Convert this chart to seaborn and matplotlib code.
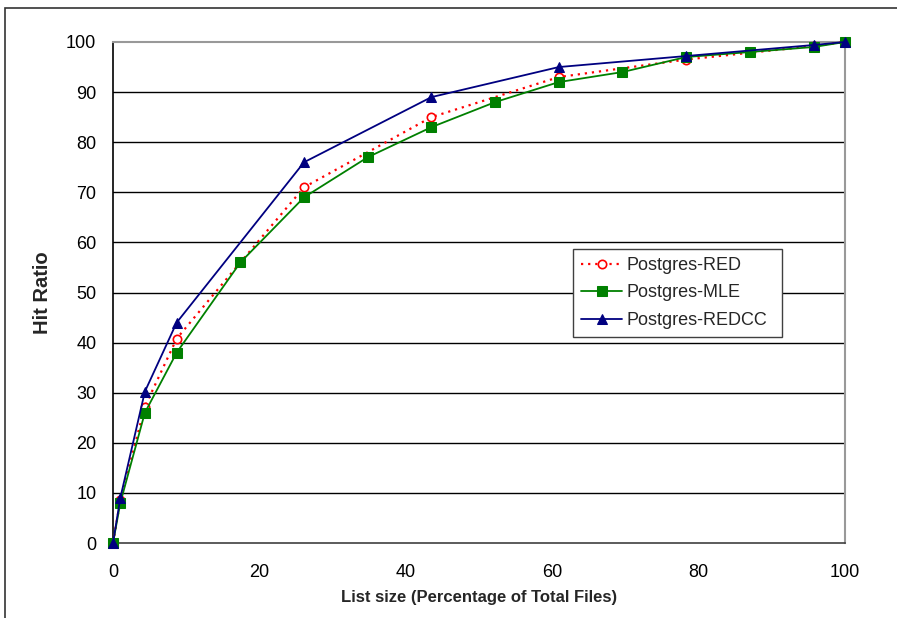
import matplotlib
matplotlib.use('Agg')
import matplotlib.pyplot as plt
import seaborn as sns
import pandas as pd
from matplotlib.patches import Rectangle

sns.set_style('white')
plt.rcParams['font.family'] = ['Liberation Sans', 'DejaVu Sans']

# ---- data ----
x_mle = [0, 1, 4.35, 8.7, 17.4, 26.1, 34.8, 43.5, 52.2, 60.9, 69.6, 78.3, 87.0, 95.7, 100]
y_mle = [0, 8, 26, 38, 56, 69, 77, 83, 88, 92, 94, 97, 98, 99, 100]
x_red = [0, 1, 4.35, 8.7, 17.4, 26.1, 43.5, 60.9, 78.3, 95.7, 100]
y_red = [0, 8.5, 27.2, 40.8, 56, 71, 85, 93, 96.5, 99.2, 100]
x_redcc = [0, 1, 4.35, 8.7, 26.1, 43.5, 60.9, 78.3, 95.7, 100]
y_redcc = [0, 9, 30.2, 44, 76, 89, 95, 97.2, 99.4, 100]
labels = ['Postgres-RED', 'Postgres-MLE', 'Postgres-REDCC']
x_ticks = [0, 20, 40, 60, 80, 100]
y_ticks = [0, 10, 20, 30, 40, 50, 60, 70, 80, 90, 100]
x_label = 'List size (Percentage of Total Files)'
y_label = 'Hit Ratio'

W, H = 897, 618
fig = plt.figure(figsize=(W / 100, H / 100), dpi=100)
ax = fig.add_axes([113 / W, 1 - 543 / H, 732 / W, 501 / H])

# outer frame
fig.add_artist(Rectangle((5 / W, -0.1), 1.2, 1 - 8 / H + 0.1, transform=fig.transFigure,
                         fill=False, edgecolor='#333333', lw=1.2, zorder=0))

ax.set_xlim(0, 100)
ax.set_ylim(0, 100)
ax.set_axisbelow(True)
for yv in y_ticks[1:-1]:
    ax.axhline(yv, color='black', lw=1.0, zorder=0)

sns.lineplot(x=x_red, y=y_red, ax=ax, color='#FF0000', linestyle=(0, (1, 2.2)), lw=1.6,
             marker='o', markersize=6, markerfacecolor='white', markeredgecolor='#FF0000',
             markeredgewidth=1.2, label=labels[0], zorder=3, clip_on=False)
sns.lineplot(x=x_mle, y=y_mle, ax=ax, color='#008000', linestyle='-', lw=1.3,
             marker='s', markersize=6.5, markerfacecolor='#008000', markeredgecolor='#008000',
             label=labels[1], zorder=4, clip_on=False)
sns.lineplot(x=x_redcc, y=y_redcc, ax=ax, color='#000080', linestyle='-', lw=1.3,
             marker='^', markersize=7, markerfacecolor='#000080', markeredgecolor='#000080',
             label=labels[2], zorder=5, clip_on=False)

ax.set_xticks(x_ticks)
ax.set_yticks(y_ticks)
ax.tick_params(axis='both', direction='out', length=6, width=1, color='black',
               labelsize=13, labelcolor='black')
ax.tick_params(axis='y', pad=6)
ax.tick_params(axis='x', pad=9)

for side in ['left', 'bottom']:
    ax.spines[side].set_color('black')
    ax.spines[side].set_linewidth(1.2)
for side in ['top', 'right']:
    ax.spines[side].set_color('#999999')
    ax.spines[side].set_linewidth(1.5)
ax.spines['bottom'].set_color('#404040')

ax.set_xlabel(x_label, fontsize=12, fontweight='bold')
ax.set_ylabel(y_label, fontsize=14.5, fontweight='bold')
ax.xaxis.set_label_coords(0.5, -0.093)
ax.xaxis.label.set_va('top')
ax.yaxis.set_label_coords(-0.083, 0.5)

leg = ax.legend(loc='lower left', bbox_to_anchor=(0.628, 0.411, 0.2855, 0.176), mode='expand',
                fontsize=13, frameon=True, fancybox=False, framealpha=1, edgecolor='#404040',
                handlelength=2.3, handletextpad=0.25, labelspacing=0.58, borderpad=0.45,
                borderaxespad=0)
leg.get_frame().set_linewidth(1.0)

fig.savefig('out.png', dpi=100)
